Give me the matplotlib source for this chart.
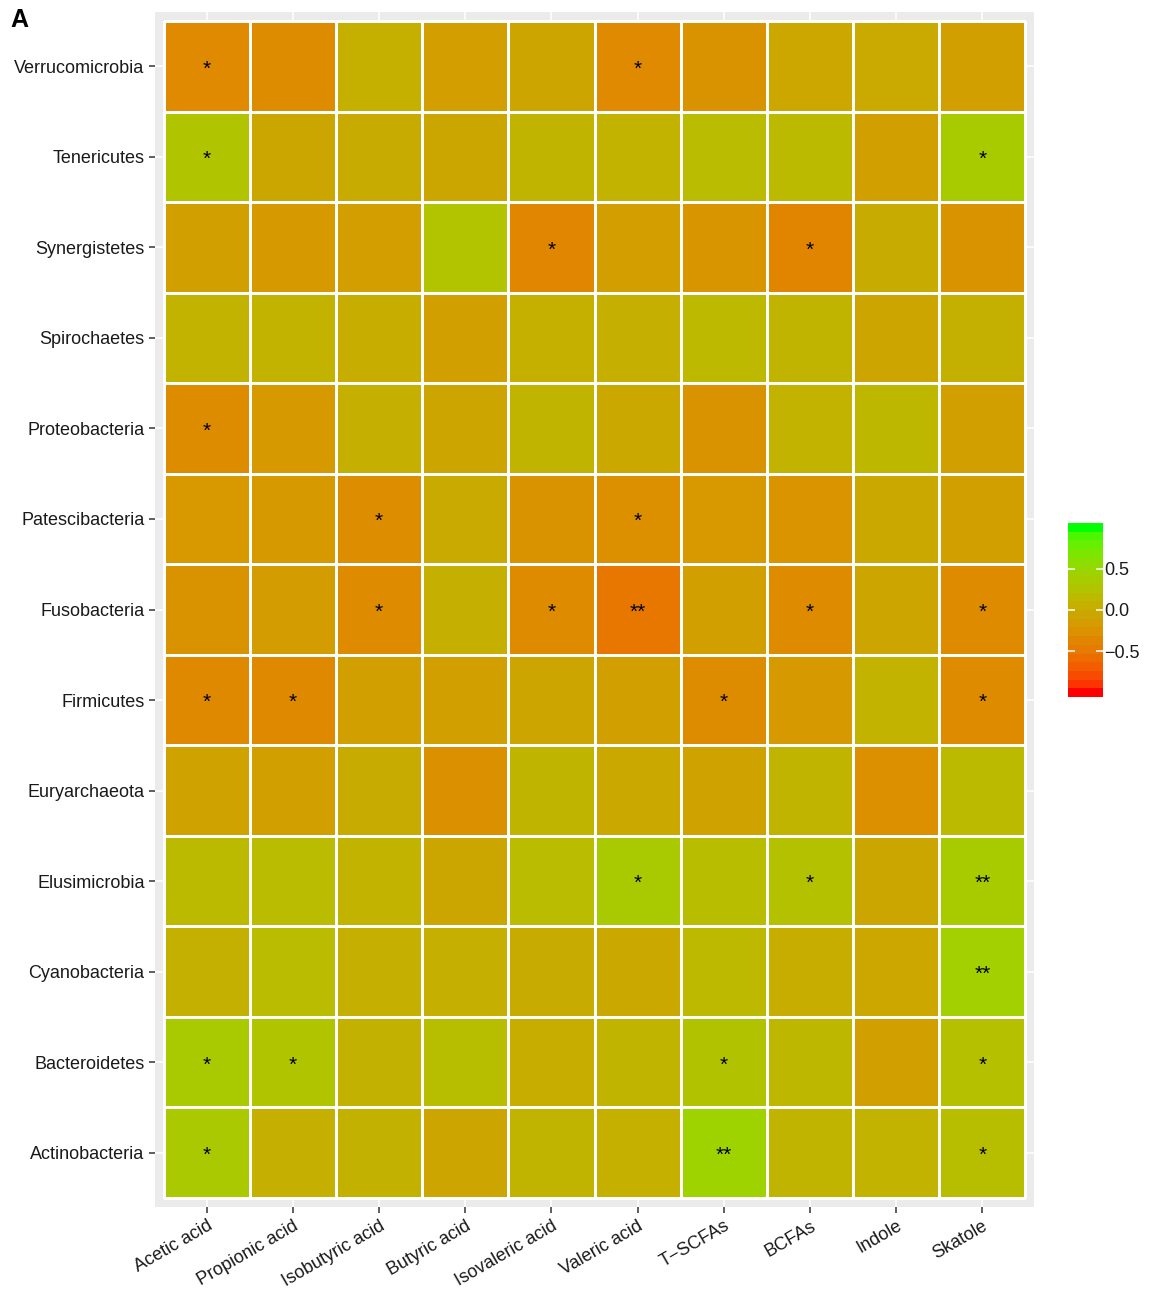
import numpy as np
import matplotlib
matplotlib.use("Agg")
import matplotlib.pyplot as plt
from matplotlib.colors import ListedColormap

plt.rcParams['font.family'] = ['Liberation Sans', 'DejaVu Sans']

metabolites = ["Acetic acid", "Propionic acid", "Isobutyric acid", "Butyric acid",
               "Isovaleric acid", "Valeric acid", "T\u2212SCFAs", "BCFAs", "Indole", "Skatole"]

# phyla, top row first
phyla = ["Verrucomicrobia", "Tenericutes", "Synergistetes", "Spirochaetes",
         "Proteobacteria", "Patescibacteria", "Fusobacteria", "Firmicutes",
         "Euryarchaeota", "Elusimicrobia", "Cyanobacteria", "Bacteroidetes",
         "Actinobacteria"]

# spearman r, one list per phylum (same order as metabolites)
r_verruco = [-0.33, -0.31, 0.05, -0.14, -0.07, -0.33, -0.25, -0.04, -0.02, -0.13]
r_teneri = [0.28, -0.05, 0.00, -0.05, 0.10, 0.09, 0.18, 0.17, -0.13, 0.36]
r_synerg = [-0.13, -0.18, -0.14, 0.26, -0.36, -0.14, -0.22, -0.37, 0.00, -0.25]
r_spiro = [0.09, 0.09, 0.02, -0.13, 0.05, 0.04, 0.15, 0.10, -0.06, 0.06]
r_proteo = [-0.31, -0.18, 0.04, -0.06, 0.10, -0.03, -0.25, 0.08, 0.13, -0.13]
r_patesc = [-0.20, -0.18, -0.30, -0.01, -0.25, -0.28, -0.20, -0.23, -0.03, -0.13]
r_fuso = [-0.25, -0.15, -0.32, 0.04, -0.32, -0.50, -0.13, -0.32, -0.07, -0.32]
r_firmi = [-0.34, -0.34, -0.13, -0.13, -0.07, -0.11, -0.31, -0.18, 0.09, -0.32]
r_eury = [-0.10, -0.13, 0.00, -0.27, 0.11, -0.03, -0.09, 0.10, -0.28, 0.17]
r_elusi = [0.17, 0.19, 0.09, -0.05, 0.18, 0.35, 0.20, 0.24, -0.05, 0.36]
r_cyano = [0.06, 0.18, 0.04, 0.04, 0.00, -0.03, 0.14, 0.02, -0.04, 0.42]
r_bacter = [0.35, 0.28, 0.07, 0.21, 0.02, 0.10, 0.27, 0.13, -0.13, 0.23]
r_actino = [0.33, 0.04, 0.07, -0.06, 0.10, 0.05, 0.45, 0.10, 0.08, 0.21]

# significance marks
s_verruco = ["*", "", "", "", "", "*", "", "", "", ""]
s_teneri = ["*", "", "", "", "", "", "", "", "", "*"]
s_synerg = ["", "", "", "", "*", "", "", "*", "", ""]
s_spiro = ["", "", "", "", "", "", "", "", "", ""]
s_proteo = ["*", "", "", "", "", "", "", "", "", ""]
s_patesc = ["", "", "*", "", "", "*", "", "", "", ""]
s_fuso = ["", "", "*", "", "*", "**", "", "*", "", "*"]
s_firmi = ["*", "*", "", "", "", "", "*", "", "", "*"]
s_eury = ["", "", "", "", "", "", "", "", "", ""]
s_elusi = ["", "", "", "", "", "*", "", "*", "", "**"]
s_cyano = ["", "", "", "", "", "", "", "", "", "**"]
s_bacter = ["*", "*", "", "", "", "", "*", "", "", "*"]
s_actino = ["*", "", "", "", "", "", "**", "", "", "*"]

r = np.array([r_verruco, r_teneri, r_synerg, r_spiro, r_proteo, r_patesc, r_fuso,
              r_firmi, r_eury, r_elusi, r_cyano, r_bacter, r_actino])
stars = [s_verruco, s_teneri, s_synerg, s_spiro, s_proteo, s_patesc, s_fuso,
         s_firmi, s_eury, s_elusi, s_cyano, s_bacter, s_actino]


# red -> green gradient interpolated in CIE Lab
def srgb_to_lab(c):
    c = np.asarray(c, float)
    lin = np.where(c <= 0.04045, c / 12.92, ((c + 0.055) / 1.055) ** 2.4)
    M = np.array([[0.4124, 0.3576, 0.1805], [0.2126, 0.7152, 0.0722], [0.0193, 0.1192, 0.9505]])
    xyz = M @ lin / np.array([0.95047, 1.0, 1.08883])
    f = np.where(xyz > 0.008856, np.cbrt(xyz), 7.787 * xyz + 16 / 116)
    return np.array([116 * f[1] - 16, 500 * (f[0] - f[1]), 200 * (f[1] - f[2])])


def lab_to_srgb(lab):
    L, a, b = lab
    fy = (L + 16) / 116
    f = np.array([fy + a / 500, fy, fy - b / 200])
    xyz = np.where(f ** 3 > 0.008856, f ** 3, (f - 16 / 116) / 7.787) * np.array([0.95047, 1.0, 1.08883])
    Mi = np.array([[3.2406, -1.5372, -0.4986], [-0.9689, 1.8758, 0.0415], [0.0557, -0.2040, 1.0570]])
    lin = np.clip(Mi @ xyz, 0, 1)
    return np.clip(np.where(lin <= 0.0031308, 12.92 * lin, 1.055 * lin ** (1 / 2.4) - 0.055), 0, 1)


lab_lo = srgb_to_lab([1, 0, 0])
lab_hi = srgb_to_lab([0, 1, 0])
ramp = [lab_to_srgb(lab_lo + t * (lab_hi - lab_lo)) for t in np.linspace(0, 1, 256)]
cmap = ListedColormap(ramp)

fig = plt.figure(figsize=(11.54, 12.91), dpi=100)
ax = fig.add_axes([155 / 1154, 84 / 1291, 879 / 1154, 1195 / 1291])
ax.set_facecolor("#EBEBEB")
nr, nc = r.shape
ax.set_xticks(range(nc))
ax.set_yticks(range(nr))
ax.grid(True, color="white", lw=1.1)
ax.set_axisbelow(True)
ax.pcolormesh(np.arange(nc + 1) - 0.5, np.arange(nr + 1) - 0.5, r, cmap=cmap,
              vmin=-1, vmax=1, edgecolors="white", linewidth=0.9)
for i in range(nr):
    for j in range(nc):
        if stars[i][j]:
            ax.text(j, i + 0.03, stars[i][j], ha="center", va="center", fontsize=15, color="black")
ax.set_xlim(-0.6, nc - 0.4)
ax.set_ylim(nr - 0.4, -0.6)
for s in ax.spines.values():
    s.set_visible(False)
ax.set_yticklabels(phyla, fontsize=13, color="#1a1a1a")
ax.set_xticklabels(metabolites, fontsize=13, color="#1a1a1a", rotation=30,
                   ha="right", va="top", rotation_mode="anchor")
ax.tick_params(direction="out", length=4.5, width=1.1, color="#333333", pad=3)

# legend bar: 20 bins over the -1..1 limits
nbin = 20
cax = fig.add_axes([1068 / 1154, 594 / 1291, 35 / 1154, 174 / 1291])
bins = np.linspace(-1, 1, nbin)
cax.pcolormesh([0, 1], np.arange(nbin + 1), bins.reshape(-1, 1), cmap=cmap, vmin=-1, vmax=1)
cb_ticks = [-0.5, 0.0, 0.5]
tick_pos = [0.5 + (v + 1) / 2 * (nbin - 1) for v in cb_ticks]
cax.hlines(tick_pos, 0, 0.2, color="white", lw=1.1)
cax.hlines(tick_pos, 0.8, 1, color="white", lw=1.1)
cax.set_xlim(0, 1)
cax.set_ylim(0, nbin)
cax.set_xticks([])
cax.yaxis.tick_right()
cax.set_yticks(tick_pos)
cax.set_yticklabels(["\u22120.5", "0.0", "0.5"], fontsize=13, color="#1a1a1a")
cax.tick_params(axis="y", length=0, pad=1)
for s in cax.spines.values():
    s.set_visible(False)

fig.text(10 / 1154, 1 - 8 / 1291, "A", fontsize=18, fontweight="bold", ha="left", va="top")

fig.savefig("out.png", dpi=100)
